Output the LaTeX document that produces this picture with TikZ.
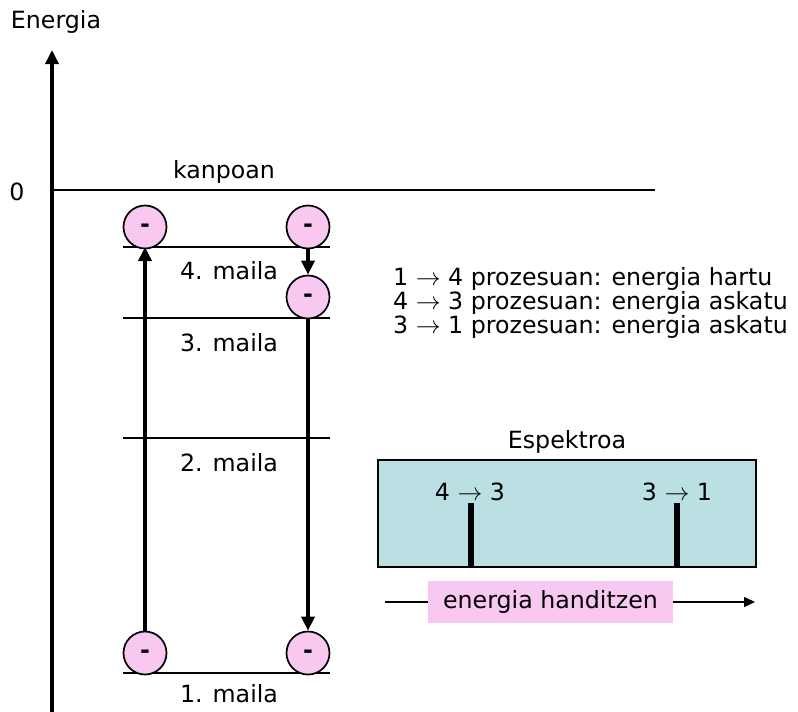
\documentclass[tikz,border=0pt]{standalone}
\usepackage{fontspec}
\setmainfont{DejaVu Sans}
\usetikzlibrary{arrows.meta}
\definecolor{elpink}{HTML}{F9C8F1}
\definecolor{speccyan}{HTML}{BBE0E3}
\tikzset{
  x=1pt, y=-1pt,
  every node/.style={font=\fontsize{23.7}{28}\selectfont, inner sep=0pt},
  level/.style={line width=1.5pt},
  electron/.style={circle, draw=black, line width=1.7pt, fill=elpink, minimum size=43pt,
    font=\fontsize{23.7}{28}\selectfont\bfseries, text height=11.8pt, text depth=0pt},
  jump/.style={line width=3.5pt, -{Triangle[length=14pt,width=13pt]}},
  specline/.style={line width=6pt},
}
\begin{document}
\begin{tikzpicture}
\useasboundingbox (0,0) rectangle (798,712);

% energy axis
\node (elabel) at (56,22) {Energia};
\coordinate (axbot) at (52,712);
\coordinate (axtop) at (52,50);
\draw[line width=3.5pt, -{Triangle[length=14pt,width=13pt]}] (axbot) -- (axtop);

% zero level: outside the atom
\node (zero) at (17,192) {0};
\coordinate (k1) at (52,190);
\coordinate (k2) at (655,190);
\draw[level] (k1) -- (k2);
\node (kanpoan) at (224,172) {kanpoan};

% bound levels
\coordinate (l4a) at (123,247); \coordinate (l4b) at (330,247);
\coordinate (l3a) at (123,318); \coordinate (l3b) at (330,318);
\coordinate (l2a) at (123,438); \coordinate (l2b) at (330,438);
\coordinate (l1a) at (123,673); \coordinate (l1b) at (330,673);
\draw[level] (l4a) -- (l4b);
\draw[level] (l3a) -- (l3b);
\draw[level] (l2a) -- (l2b);
\draw[level] (l1a) -- (l1b);
\node (m4) at (229,271) {4. maila};
\node (m3) at (229,343) {3. maila};
\node (m2) at (229,463) {2. maila};
\node (m1) at (229,694) {1. maila};

% electrons
\node[electron] (eA4) at (145,227) {-};
\node[electron] (eA1) at (145,653) {-};
\node[electron] (eB4) at (308,227) {-};
\node[electron] (eB3) at (308,297) {-};
\node[electron] (eB1) at (308,653) {-};

% transitions
\coordinate (up4) at (145,247);
\draw[jump] (eA1) -- (up4);
\draw[jump] (eB4) -- (eB3);
\draw[jump] (eB3) -- (eB1);

% process list
\node[anchor=west] (p1) at (393,279) {1 $\rightarrow$ 4 prozesuan: energia hartu};
\node[anchor=west] (p2) at (393,303) {4 $\rightarrow$ 3 prozesuan: energia askatu};
\node[anchor=west] (p3) at (393,327) {3 $\rightarrow$ 1 prozesuan: energia askatu};

% spectrum
\node (spt) at (567,442) {Espektroa};
\node[draw=black, line width=1.5pt, fill=speccyan, minimum width=378pt, minimum height=107pt] (spec) at (567,513.5) {};
\coordinate (s1t) at (471,503); \coordinate (s1b) at (471,567);
\coordinate (s2t) at (677,503); \coordinate (s2b) at (677,567);
\draw[specline] (s1t) -- (s1b);
\draw[specline] (s2t) -- (s2b);
\node (t43) at (470,492) {4 $\rightarrow$ 3};
\node (t31) at (677,492) {3 $\rightarrow$ 1};

% increasing energy
\coordinate (h1) at (385,602);
\coordinate (h2) at (755,602);
\draw[line width=1.5pt, -{Triangle[length=11pt,width=10pt]}] (h1) -- (h2);
\node[fill=elpink, minimum width=245pt, minimum height=42pt] (handi) at (550.5,602) {energia handitzen};
\end{tikzpicture}
\end{document}
